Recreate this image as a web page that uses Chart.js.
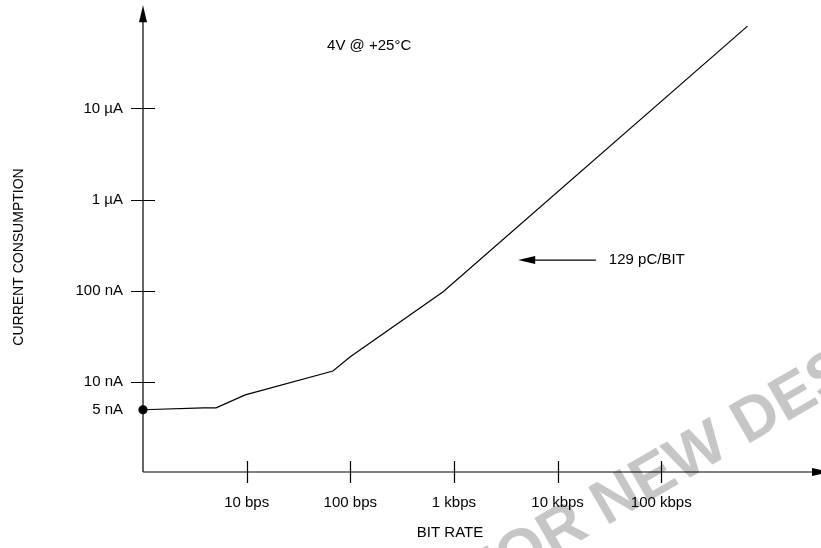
<!DOCTYPE html>
<html>
<head>
<meta charset="utf-8">
<script src="https://cdn.jsdelivr.net/npm/chart.js@4"></script>
<style>
  html, body { margin: 0; padding: 0; background: #fff; }
  #wrap { width: 821px; height: 548px; }
</style>
</head>
<body>
<div id="wrap"><canvas id="curChart"></canvas></div>
<script>
// bit rate (bps) vs supply current (nA)
const bitRate = [1, 3.83, 5.07, 9.7, 68, 100, 787, 680000];
const current = [5, 5.24, 5.24, 7.27, 13.3, 19, 98, 79600];

const xTicks = [10, 100, 1000, 10000, 100000];
const xTickLabels = ['10 bps', '100 bps', '1 kbps', '10 kbps', '100 kbps'];
const yTicks = [5, 10, 100, 1000, 10000];
const yTickLabels = ['5 nA', '10 nA', '100 nA', '1 \u00b5A', '10 \u00b5A'];

const FONT = '"Liberation Sans", Arial, sans-serif';
Chart.defaults.font.family = FONT;
Chart.defaults.font.size = 15;
Chart.defaults.color = '#000';

function arrowHead(ctx, x, y, dx, dy) {
  // tip at (x,y), pointing along (dx,dy)
  const len = 17, half = 4;
  const px = -dy, py = dx;
  ctx.beginPath();
  ctx.moveTo(x, y);
  ctx.lineTo(x - dx * len + px * half, y - dy * len + py * half);
  ctx.lineTo(x - dx * len - px * half, y - dy * len - py * half);
  ctx.closePath();
  ctx.fill();
}

const watermark = {
  id: 'watermark',
  beforeDraw(chart) {
    const ctx = chart.ctx;
    ctx.save();
    ctx.font = 'bold 62px ' + FONT;
    ctx.fillStyle = '#c6c6c6';
    const txt = 'NOT RECOMMENDED FOR NEW DESIGNS';
    const off = ctx.measureText('NOT RECOMMENDED FOR ').width;
    ctx.translate(606, 526);
    ctx.rotate(-30 * Math.PI / 180);
    ctx.fillText(txt, -off, 0);
    ctx.restore();
  }
};

const axesDeco = {
  id: 'axesDeco',
  beforeDatasetsDraw(chart) {
    const ctx = chart.ctx;
    const a = chart.chartArea;
    const xs = chart.scales.x, ys = chart.scales.y;
    const xEnd = chart.width + 8;
    ctx.save();
    ctx.strokeStyle = '#000';
    ctx.fillStyle = '#000';
    ctx.lineWidth = 1.2;
    // axis lines
    ctx.beginPath();
    ctx.moveTo(a.left, a.bottom);
    ctx.lineTo(a.left, a.top + 10);
    ctx.moveTo(a.left, a.bottom);
    ctx.lineTo(xEnd - 10, a.bottom);
    ctx.stroke();
    arrowHead(ctx, a.left, a.top, 0, -1);
    arrowHead(ctx, xEnd, a.bottom, 1, 0);
    // tick marks crossing the axes
    ctx.beginPath();
    xTicks.forEach(v => {
      const px = Math.round(xs.getPixelForValue(v)) + 0.5;
      ctx.moveTo(px, a.bottom - 11);
      ctx.lineTo(px, a.bottom + 11);
    });
    yTicks.slice(1).forEach(v => {
      const py = Math.round(ys.getPixelForValue(v)) + 0.5;
      ctx.moveTo(a.left - 12, py);
      ctx.lineTo(a.left + 12, py);
    });
    ctx.stroke();

    // axis titles
    ctx.font = '15px ' + FONT;
    ctx.textAlign = 'center';
    ctx.textBaseline = 'middle';
    ctx.fillText('BIT RATE', 450, 533);
    ctx.save();
    ctx.translate(19, 257);
    ctx.rotate(-Math.PI / 2);
    ctx.font = '14px ' + FONT;
    ctx.fillText('CURRENT CONSUMPTION', 0, 0);
    ctx.restore();

    // condition note
    ctx.fillText('4V @ +25\u00b0C', xs.getPixelForValue(152), ys.getPixelForValue(49000));

    // slope annotation
    const ay = ys.getPixelForValue(218);
    const ax0 = xs.getPixelForValue(4170);
    const ax1 = xs.getPixelForValue(23400);
    ctx.beginPath();
    ctx.moveTo(ax0 + 12, ay);
    ctx.lineTo(ax1, ay);
    ctx.stroke();
    arrowHead(ctx, ax0, ay, -1, 0);
    ctx.textAlign = 'left';
    ctx.fillText('129 pC/BIT', ax1 + 13, ay);
    ctx.restore();
  }
};

new Chart(document.getElementById('curChart'), {
  type: 'scatter',
  data: {
    datasets: [{
      data: bitRate.map((b, i) => ({ x: b, y: current[i] })),
      showLine: true,
      borderColor: '#000',
      borderWidth: 1.2,
      backgroundColor: '#000',
      pointRadius: bitRate.map((b, i) => i === 0 ? 4 : 0),
      pointHoverRadius: 0,
      tension: 0,
      clip: false
    }]
  },
  options: {
    responsive: true,
    maintainAspectRatio: false,
    animation: false,
    layout: { padding: 0 },
    plugins: {
      legend: { display: false },
      tooltip: { enabled: false }
    },
    scales: {
      x: {
        type: 'logarithmic',
        min: 1,
        max: 3.1e6,
        grid: { display: false, drawTicks: false },
        border: { display: false },
        afterBuildTicks(scale) { scale.ticks = xTicks.map(v => ({ value: v })); },
        afterFit(scale) {
          scale.height = 76;
          scale.paddingLeft = 0; scale.paddingRight = 0;
        },
        ticks: {
          padding: 22,
          maxRotation: 0,
          autoSkip: false,
          callback: (v) => xTickLabels[xTicks.indexOf(v)]
        }
      },
      y: {
        type: 'logarithmic',
        min: 1.04,
        max: 1.35e5,
        grid: { display: false, drawTicks: false },
        border: { display: false },
        afterBuildTicks(scale) { scale.ticks = yTicks.map(v => ({ value: v })); },
        afterFit(scale) {
          scale.width = 143;
          scale.paddingTop = 0; scale.paddingBottom = 0;
        },
        ticks: {
          padding: 20,
          autoSkip: false,
          callback: (v) => yTickLabels[yTicks.indexOf(v)]
        }
      }
    }
  },
  plugins: [watermark, axesDeco]
});
</script>
</body>
</html>
